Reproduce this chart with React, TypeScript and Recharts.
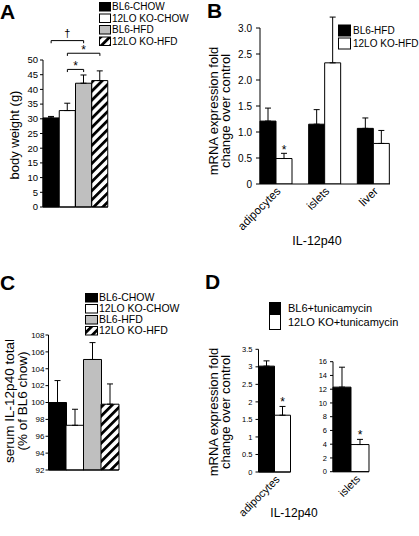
import React from "react";
import {
  Bar,
  BarChart,
  Cell,
  ErrorBar,
  LabelList,
  ReferenceLine,
  XAxis,
  YAxis,
} from "recharts";

const FONT = '"Liberation Sans", Arial, sans-serif';

// A and C share the four diet groups
const dietGroups = ["BL6-CHOW", "12LO KO-CHOW", "BL6-HFD", "12LO KO-HFD"];
const dietFills = ["#000", "#fff", "#bfbfbf", "url(#hatch)"];

// A: body weight (g)
const bodyWeight = [30.3, 32.8, 42.1, 43.0];
const bodyWeightErr = [0.5, 2.5, 2.8, 3.3];
const weightTicks = [0, 5, 10, 15, 20, 25, 30, 35, 40, 45, 50];
const brackets = [
  { from: "BL6-CHOW", to: "BL6-HFD", level: 56.6, mark: "†" },
  { from: "12LO KO-CHOW", to: "12LO KO-HFD", level: 52.3, mark: "*" },
  { from: "12LO KO-CHOW", to: "BL6-HFD", level: 46.8, mark: "*" },
];
const bracketDrop = 0.9;

// B: IL-12p40 mRNA, HFD
const tissuesB = ["adipocytes", "islets", "liver"];
const bl6Hfd = [1.21, 1.15, 1.07];
const bl6HfdErr = [0.25, 0.28, 0.2];
const koHfd = [0.49, 2.33, 0.78];
const koHfdErr = [0.1, 0.88, 0.25];
const koHfdStar = ["*", "", ""];
const foldTicksB = [0, 0.5, 1, 1.5, 2, 2.5, 3];

// C: serum IL-12p40
const serumIl12 = [100.0, 97.3, 105.1, 99.8];
const serumIl12Err = [2.6, 1.9, 2.0, 2.4];
const serumTicks = [92, 94, 96, 98, 100, 102, 104, 106, 108];

// D: tunicamycin
const bl6Tun = [3.02, 12.3];
const bl6TunErr = [0.15, 2.9];
const koTun = [1.62, 3.95];
const koTunErr = [0.25, 0.75];
const tissuesD = ["adipocytes", "islets"];
const adipoTicksD = [0, 0.5, 1, 1.5, 2, 2.5, 3, 3.5];
const isletTicksD = [0, 2, 4, 6, 8, 10, 12, 14, 16];

const axisStroke = { stroke: "#000", strokeWidth: 1 };

const weightRows = dietGroups.map((group, i) => ({
  group,
  value: bodyWeight[i],
  err: [0, bodyWeightErr[i]],
}));
const serumRows = dietGroups.map((group, i) => ({
  group,
  value: serumIl12[i],
  err: [0, serumIl12Err[i]],
}));
const rowsB = tissuesB.map((tissue, i) => ({
  tissue,
  bl6: bl6Hfd[i],
  bl6Err: [0, bl6HfdErr[i]],
  ko: koHfd[i],
  koErr: [0, koHfdErr[i]],
  star: koHfdStar[i],
}));
const rowsD = tissuesD.map((tissue, i) => [
  {
    tissue,
    bl6: bl6Tun[i],
    bl6Err: [0, bl6TunErr[i]],
    ko: koTun[i],
    koErr: [0, koTunErr[i]],
    star: "*",
  },
]);

function SlantTick(props: any) {
  const { x, y, payload, fontSize, shift = 5 } = props;
  const ax = x + shift;
  return (
    <text
      x={ax}
      y={y}
      transform={`rotate(-45 ${ax} ${y})`}
      textAnchor="end"
      fontSize={fontSize}
      fill="#000"
    >
      {payload.value}
    </text>
  );
}

// star above the error bar of a bar, from the bar's own geometry
const starMark =
  (rows: any[], valueKey: string, errKey: string, size: number, lift: number) =>
  (p: any) => {
    const row = rows[p.index];
    if (!row || !row.star) return null;
    const vb = p.viewBox ?? p;
    const ppu = vb.height / row[valueKey];
    const top = vb.y - row[errKey][1] * ppu;
    return (
      <text
        x={vb.x + vb.width / 2}
        y={top + lift}
        textAnchor="middle"
        fontSize={size}
        fill="#000"
      >
        *
      </text>
    );
  };

function PanelA() {
  return (
    <BarChart
      width={112}
      height={212}
      data={weightRows}
      margin={{ top: 60, right: 4, bottom: 0, left: 0 }}
      barCategoryGap={0}
    >
      <XAxis dataKey="group" height={5} tick={false} tickLine={false} axisLine={axisStroke} />
      <YAxis
        type="number"
        domain={[0, 50]}
        ticks={weightTicks}
        interval={0}
        width={43}
        tickSize={3}
        tickMargin={2}
        tick={{ fontSize: 9.5, fill: "#000" }}
        axisLine={axisStroke}
        tickLine={axisStroke}
      />
      <Bar dataKey="value" stroke="#000" strokeWidth={1} isAnimationActive={false}>
        {weightRows.map((r, i) => (
          <Cell key={r.group} fill={dietFills[i]} />
        ))}
        <ErrorBar dataKey="err" width={3} stroke="#000" strokeWidth={1} />
      </Bar>
      {brackets.map((b, i) => (
        <ReferenceLine
          key={`h${i}`}
          segment={[
            { x: b.from, y: b.level },
            { x: b.to, y: b.level },
          ]}
          ifOverflow="visible"
          stroke="#000"
          label={{
            value: b.mark,
            position: "top",
            offset: b.mark === "*" ? -1 : 4,
            fontSize: b.mark === "*" ? 12 : 11,
            fill: "#000",
          }}
        />
      ))}
      {brackets.flatMap((b, i) =>
        [b.from, b.to].map((x, j) => (
          <ReferenceLine
            key={`v${i}${j}`}
            segment={[
              { x, y: b.level },
              { x, y: b.level - bracketDrop },
            ]}
            ifOverflow="visible"
            stroke="#000"
          />
        ))
      )}
    </BarChart>
  );
}

function PanelB() {
  return (
    <BarChart
      width={209}
      height={245}
      data={rowsB}
      margin={{ top: 28, right: 29, bottom: 0, left: 0 }}
      barCategoryGap={8}
      barGap={0}
    >
      <XAxis
        dataKey="tissue"
        height={61}
        padding={{ left: -8, right: -8 }}
        tickLine={false}
        axisLine={axisStroke}
        interval={0}
        tick={<SlantTick fontSize={11.5} />}
      />
      <YAxis
        type="number"
        domain={[0, 3]}
        allowDataOverflow
        ticks={foldTicksB}
        interval={0}
        tickFormatter={(v: number) => (v === 0 ? "0" : v.toFixed(1))}
        width={50}
        tickSize={4}
        tickMargin={4}
        tick={{ fontSize: 10, fill: "#000" }}
        axisLine={axisStroke}
        tickLine={axisStroke}
      />
      <Bar dataKey="bl6" fill="#000" stroke="#000" isAnimationActive={false}>
        <ErrorBar dataKey="bl6Err" width={3} stroke="#000" strokeWidth={1} />
      </Bar>
      <Bar dataKey="ko" fill="#fff" stroke="#000" isAnimationActive={false}>
        <ErrorBar dataKey="koErr" width={3} stroke="#000" strokeWidth={1} />
        <LabelList dataKey="star" content={starMark(rowsB, "ko", "koErr", 12, 1)} />
      </Bar>
    </BarChart>
  );
}

function PanelC() {
  return (
    <BarChart
      width={122}
      height={195}
      data={serumRows}
      margin={{ top: 55, right: 3.5, bottom: 0, left: 0 }}
      barCategoryGap={0}
    >
      <XAxis dataKey="group" height={5} tick={false} tickLine={false} axisLine={axisStroke} />
      <YAxis
        type="number"
        domain={[92, 108]}
        ticks={serumTicks}
        interval={0}
        width={48.5}
        tickSize={3}
        tickMargin={1}
        tick={{ fontSize: 8, fill: "#000" }}
        axisLine={axisStroke}
        tickLine={axisStroke}
      />
      <Bar dataKey="value" stroke="#000" strokeWidth={1} isAnimationActive={false}>
        {serumRows.map((r, i) => (
          <Cell key={r.group} fill={dietFills[i]} />
        ))}
        <ErrorBar dataKey="err" width={3} stroke="#000" strokeWidth={1} />
      </Bar>
    </BarChart>
  );
}

function PanelD({
  idx,
  width,
  axisWidth,
  top,
  plotH,
  domain,
  ticks,
  shift,
}: {
  idx: number;
  width: number;
  axisWidth: number;
  top: number;
  plotH: number;
  domain: [number, number];
  ticks: number[];
  shift: number;
}) {
  const rows = rowsD[idx];
  return (
    <BarChart
      width={width}
      height={top + plotH + 60}
      data={rows}
      margin={{ top, right: width - axisWidth - (idx === 0 ? 32 : 36), bottom: 0, left: 0 }}
      barCategoryGap={0}
      barGap={0}
    >
      <XAxis
        dataKey="tissue"
        height={60}
        tickLine={false}
        axisLine={axisStroke}
        interval={0}
        tick={<SlantTick fontSize={11} shift={shift} />}
      />
      <YAxis
        type="number"
        domain={domain}
        ticks={ticks}
        interval={0}
        width={axisWidth}
        tickSize={3}
        tickMargin={3}
        tick={{ fontSize: 7.5, fill: "#000" }}
        axisLine={axisStroke}
        tickLine={axisStroke}
      />
      <Bar dataKey="bl6" fill="#000" stroke="#000" isAnimationActive={false}>
        <ErrorBar dataKey="bl6Err" width={3} stroke="#000" strokeWidth={1} />
      </Bar>
      <Bar dataKey="ko" fill="#fff" stroke="#000" isAnimationActive={false}>
        <ErrorBar dataKey="koErr" width={3} stroke="#000" strokeWidth={1} />
        <LabelList dataKey="star" content={starMark(rows, "ko", "koErr", 12, 0)} />
      </Bar>
    </BarChart>
  );
}

function Swatch({ x, y, w, h, fill }: { x: number; y: number; w: number; h: number; fill: string }) {
  return <rect x={x + 0.5} y={y + 0.5} width={w} height={h} fill={fill} stroke="#000" strokeWidth={1} />;
}

function VText({ x, y, size, children }: { x: number; y: number; size: number; children: string }) {
  return (
    <text transform={`translate(${x} ${y}) rotate(-90)`} textAnchor="middle" fontSize={size} fill="#000">
      {children}
    </text>
  );
}

const legendA = { x: 99, y0: 2, step: 11.5, w: 11, h: 8.5, tx: 112, size: 10 };
const legendC = { x: 85, y0: 293, step: 11, w: 12, h: 8.5, tx: 99, size: 10.5 };
const legendB = ["BL6-HFD", "12LO KO-HFD"];
const legendD = ["BL6+tunicamycin", "12LO KO+tunicamycin"];

function Overlay() {
  return (
    <svg
      width={419}
      height={536}
      style={{ position: "absolute", left: 0, top: 0, pointerEvents: "none" }}
      fontFamily={FONT}
    >
      <text x={0} y={19} fontSize={21} fontWeight="bold">A</text>
      <text x={207} y={18} fontSize={21} fontWeight="bold">B</text>
      <text x={0} y={290} fontSize={21} fontWeight="bold">C</text>
      <text x={205} y={289} fontSize={21} fontWeight="bold">D</text>

      {[legendA, legendC].map((lg, k) =>
        dietGroups.map((g, i) => (
          <g key={`${k}${g}`}>
            <Swatch x={lg.x} y={lg.y0 + i * lg.step} w={lg.w} h={lg.h} fill={dietFills[i]} />
            <text x={lg.tx} y={lg.y0 + i * lg.step + lg.h / 2 + 4} fontSize={lg.size}>
              {g}
            </text>
          </g>
        ))
      )}
      {legendB.map((g, i) => (
        <g key={g}>
          <Swatch x={338} y={24.5 + i * 13} w={12} h={11} fill={i === 0 ? "#000" : "#fff"} />
          <text x={353} y={34 + i * 13} fontSize={10}>{g}</text>
        </g>
      ))}
      {legendD.map((g, i) => (
        <g key={g}>
          <Swatch x={269} y={i === 0 ? 302 : 314} w={11} h={i === 0 ? 11 : 15} fill={i === 0 ? "#000" : "#fff"} />
          <text x={288} y={i === 0 ? 312 : 326} fontSize={11}>{g}</text>
        </g>
      ))}

      <VText x={18.5} y={135} size={13}>body weight (g)</VText>
      <VText x={217.5} y={111} size={13}>mRNA expression fold</VText>
      <VText x={230} y={111} size={13}>change over control</VText>
      <VText x={13.5} y={401} size={13.5}>serum IL-12p40 total</VText>
      <VText x={27} y={401} size={13.5}>(% of BL6 chow)</VText>
      <VText x={217.5} y={412} size={13}>mRNA expression fold</VText>
      <VText x={230} y={412} size={13}>change over control</VText>

      <text x={317} y={244.5} fontSize={12.5} textAnchor="middle">IL-12p40</text>
      <text x={294} y={517} fontSize={12} textAnchor="middle">IL-12p40</text>
    </svg>
  );
}

export default function App() {
  return (
    <div
      style={{
        position: "absolute",
        left: 0,
        top: 0,
        width: 419,
        height: 536,
        background: "#fff",
        fontFamily: FONT,
        color: "#000",
        overflow: "hidden",
      }}
    >
      <svg width={0} height={0} style={{ position: "absolute" }}>
        <defs>
          <pattern
            id="hatch"
            width={6.4}
            height={6.4}
            patternUnits="userSpaceOnUse"
            patternTransform="rotate(45)"
          >
            <rect width={6.4} height={6.4} fill="#fff" />
            <rect width={2.8} height={6.4} fill="#000" />
          </pattern>
        </defs>
      </svg>
      <div style={{ position: "absolute", left: 0, top: 0 }}>
        <PanelA />
      </div>
      <div style={{ position: "absolute", left: 210, top: 0 }}>
        <PanelB />
      </div>
      <div style={{ position: "absolute", left: 0, top: 280 }}>
        <PanelC />
      </div>
      <div style={{ position: "absolute", left: 210, top: 280 }}>
        <PanelD
          idx={0}
          width={82.5}
          axisWidth={48.5}
          top={69.3}
          plotH={122.7}
          domain={[0, 3.5]}
          ticks={adipoTicksD}
          shift={6}
        />
      </div>
      <div style={{ position: "absolute", left: 290, top: 280 }}>
        <PanelD
          idx={1}
          width={95}
          axisWidth={43}
          top={81.7}
          plotH={110}
          domain={[0, 16]}
          ticks={isletTicksD}
          shift={10}
        />
      </div>
      <Overlay />
    </div>
  );
}
